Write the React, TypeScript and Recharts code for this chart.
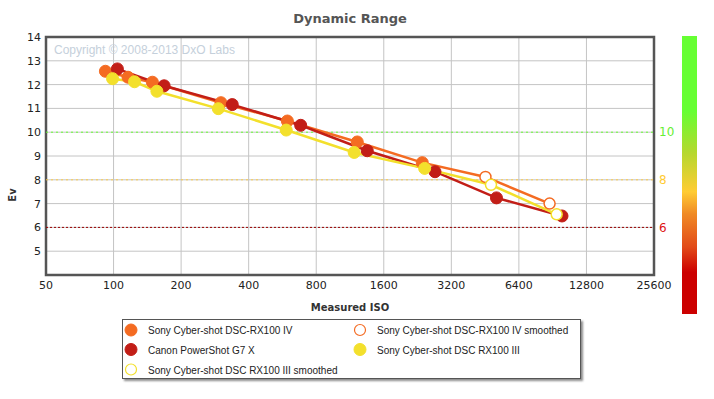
import React from "react";
import {
  ComposedChart,
  Line,
  XAxis,
  YAxis,
  CartesianGrid,
  ReferenceLine,
  ReferenceArea,
} from "recharts";

const isoTicks = [50, 100, 200, 400, 800, 1600, 3200, 6400, 12800, 25600];
const evTicks = [5, 6, 7, 8, 9, 10, 11, 12, 13, 14];

const rx100ivIso = [92, 116, 149, 301, 595, 1219, 2375];
const rx100ivEv = [12.56, 12.31, 12.1, 11.24, 10.47, 9.59, 8.72];
const rx100ivSmoothIso = [4541, 8770];
const rx100ivSmoothEv = [8.12, 7.0];

const g7xIso = [104, 168, 338, 682, 1351, 2706, 5085, 9960];
const g7xEv = [12.66, 11.95, 11.16, 10.29, 9.22, 8.34, 7.24, 6.48];

const rx100iiiIso = [99, 124, 156, 293, 588, 1181, 2434];
const rx100iiiEv = [12.25, 12.12, 11.72, 10.99, 10.09, 9.15, 8.48];
const rx100iiiSmoothIso = [4806, 9430];
const rx100iiiSmoothEv = [7.79, 6.55];

const seriesNames = [
  "Sony Cyber-shot DSC-RX100 IV",
  "Sony Cyber-shot DSC-RX100 IV smoothed",
  "Canon PowerShot G7 X",
  "Sony Cyber-shot DSC RX100 III",
  "Sony Cyber-shot DSC RX100 III smoothed",
];

const ORANGE = "#F46B22";
const RED = "#C21E17";
const YELLOW = "#F3E02C";

const build = (iso: number[], ev: number[], sIso: number[] = [], sEv: number[] = []) => [
  ...iso.map((x, i) => ({ iso: x, ev: ev[i], smooth: false })),
  ...sIso.map((x, i) => ({ iso: x, ev: sEv[i], smooth: true })),
];

const ivData = build(rx100ivIso, rx100ivEv, rx100ivSmoothIso, rx100ivSmoothEv);
const g7xData = build(g7xIso, g7xEv);
const iiiData = build(rx100iiiIso, rx100iiiEv, rx100iiiSmoothIso, rx100iiiSmoothEv);

const FONT = "'DejaVu Sans', Verdana, sans-serif";

const makeDot = (color: string) => (props: any) => {
  const { cx, cy, payload, index } = props;
  if (cx == null || cy == null) return <g key={index} />;
  const s = payload && payload.smooth;
  return (
    <circle
      key={index}
      cx={cx}
      cy={cy}
      r={s ? 5.5 : 6}
      fill={s ? "#ffffff" : color}
      stroke={color}
      strokeWidth={s ? 1.5 : 1}
    />
  );
};

const legendItems = [
  { name: seriesNames[0], color: ORANGE, hollow: false, x: 131, y: 330 },
  { name: seriesNames[1], color: ORANGE, hollow: true, x: 360, y: 330 },
  { name: seriesNames[2], color: RED, hollow: false, x: 131, y: 349.5 },
  { name: seriesNames[3], color: YELLOW, hollow: false, x: 360, y: 349.5 },
  { name: seriesNames[4], color: YELLOW, hollow: true, x: 131, y: 369.5 },
];

export default function App() {
  return (
    <div
      style={{
        position: "absolute",
        left: 0,
        top: 0,
        width: 714,
        height: 399,
        background: "#ffffff",
        fontFamily: FONT,
      }}
    >
      <div
        style={{
          position: "absolute",
          left: 250,
          width: 200,
          top: 10,
          textAlign: "center",
          fontSize: 13,
          fontWeight: "bold",
          color: "#555555",
          lineHeight: "18px",
        }}
      >
        Dynamic Range
      </div>
      <ComposedChart
        width={714}
        height={399}
        margin={{ top: 37, left: 6, right: 60, bottom: 94 }}
        style={{ position: "absolute", left: 0, top: 0 }}
      >
        <CartesianGrid stroke="#c4c4c4" strokeWidth={1} />
        <XAxis
          type="number"
          dataKey="iso"
          scale="log"
          domain={[50, 25600]}
          ticks={isoTicks}
          allowDataOverflow
          axisLine={false}
          tickLine={false}
          tickSize={0}
          tickMargin={6}
          height={30}
          interval={0}
          tick={{ fontSize: 11, fill: "#222", fontFamily: FONT }}
        />
        <YAxis
          type="number"
          domain={[4, 14]}
          ticks={evTicks}
          allowDataOverflow
          axisLine={false}
          tickLine={false}
          tickSize={0}
          tickMargin={5}
          width={40}
          interval={0}
          tick={{ fontSize: 11, fill: "#222", fontFamily: FONT }}
        />
        <ReferenceLine
          y={10}
          stroke="#66ff33"
          strokeDasharray="2 3"
          strokeWidth={1}
          label={{ value: "10", position: "right", fill: "#66ee33", fontSize: 12, fontFamily: FONT }}
        />
        <ReferenceLine
          y={8}
          stroke="#ffcc44"
          strokeDasharray="2 3"
          strokeWidth={1}
          label={{ value: "8", position: "right", fill: "#ffcc33", fontSize: 12, fontFamily: FONT }}
        />
        <ReferenceLine
          y={6}
          stroke="#990000"
          strokeDasharray="2 2"
          strokeWidth={1}
          label={{ value: "6", position: "right", fill: "#dd1111", fontSize: 12, fontFamily: FONT }}
        />
        <Line
          data={ivData}
          dataKey="ev"
          stroke={ORANGE}
          strokeWidth={2.5}
          dot={makeDot(ORANGE)}
          activeDot={false}
          isAnimationActive={false}
        />
        <Line
          data={g7xData}
          dataKey="ev"
          stroke={RED}
          strokeWidth={2.5}
          dot={makeDot(RED)}
          activeDot={false}
          isAnimationActive={false}
        />
        <Line
          data={iiiData}
          dataKey="ev"
          stroke={YELLOW}
          strokeWidth={2.5}
          dot={makeDot(YELLOW)}
          activeDot={false}
          isAnimationActive={false}
        />
        <ReferenceArea
          x1={50}
          x2={25600}
          y1={4}
          y2={14}
          fill="none"
          fillOpacity={0}
          stroke="#555555"
          strokeWidth={2.5}
          ifOverflow="visible"
        />
      </ComposedChart>
      <div
        style={{
          position: "absolute",
          left: 54,
          top: 42,
          fontSize: 12,
          color: "#c5d0db",
          fontFamily: "'Liberation Sans', Arial, sans-serif",
          lineHeight: "16px",
          whiteSpace: "nowrap",
        }}
      >
        Copyright © 2008-2013 DxO Labs
      </div>
      <div
        style={{
          position: "absolute",
          left: 3,
          top: 187,
          width: 20,
          height: 16,
          transform: "rotate(-90deg)",
          fontSize: 10,
          fontWeight: "bold",
          color: "#333",
          textAlign: "center",
          lineHeight: "16px",
        }}
      >
        Ev
      </div>
      <div
        style={{
          position: "absolute",
          left: 250,
          width: 200,
          top: 300,
          textAlign: "center",
          fontSize: 10,
          fontWeight: "bold",
          color: "#333",
          lineHeight: "16px",
        }}
      >
        Measured ISO
      </div>
      <div
        style={{
          position: "absolute",
          left: 682,
          top: 36,
          width: 15,
          height: 278,
          background:
            "linear-gradient(to bottom, #66ff33 0%, #66ff33 27%, #b5d82e 42%, #ffcc33 56%, #f08a25 64%, #e24a18 76%, #cc0000 85%, #cc0000 100%)",
        }}
      />
      <div
        style={{
          position: "absolute",
          left: 122,
          top: 319,
          width: 459,
          height: 60,
          border: "1px solid #555",
          boxShadow: "2px 2px 2px rgba(0,0,0,0.45)",
          background: "#fff",
          boxSizing: "border-box",
        }}
      />
      <svg width={714} height={399} style={{ position: "absolute", left: 0, top: 0, pointerEvents: "none" }}>
        {legendItems.map((it, i) => (
          <g key={i}>
            <circle
              cx={it.x}
              cy={it.y}
              r={it.hollow ? 5.5 : 6}
              fill={it.hollow ? "#fff" : it.color}
              stroke={it.color}
              strokeWidth={it.hollow ? 1.2 : 1}
            />
            <text
              x={it.x + 17}
              y={it.y + 4}
              fontSize={10}
              fontFamily="'Liberation Sans', Arial, sans-serif"
              fill="#222"
            >
              {it.name}
            </text>
          </g>
        ))}
      </svg>
    </div>
  );
}
